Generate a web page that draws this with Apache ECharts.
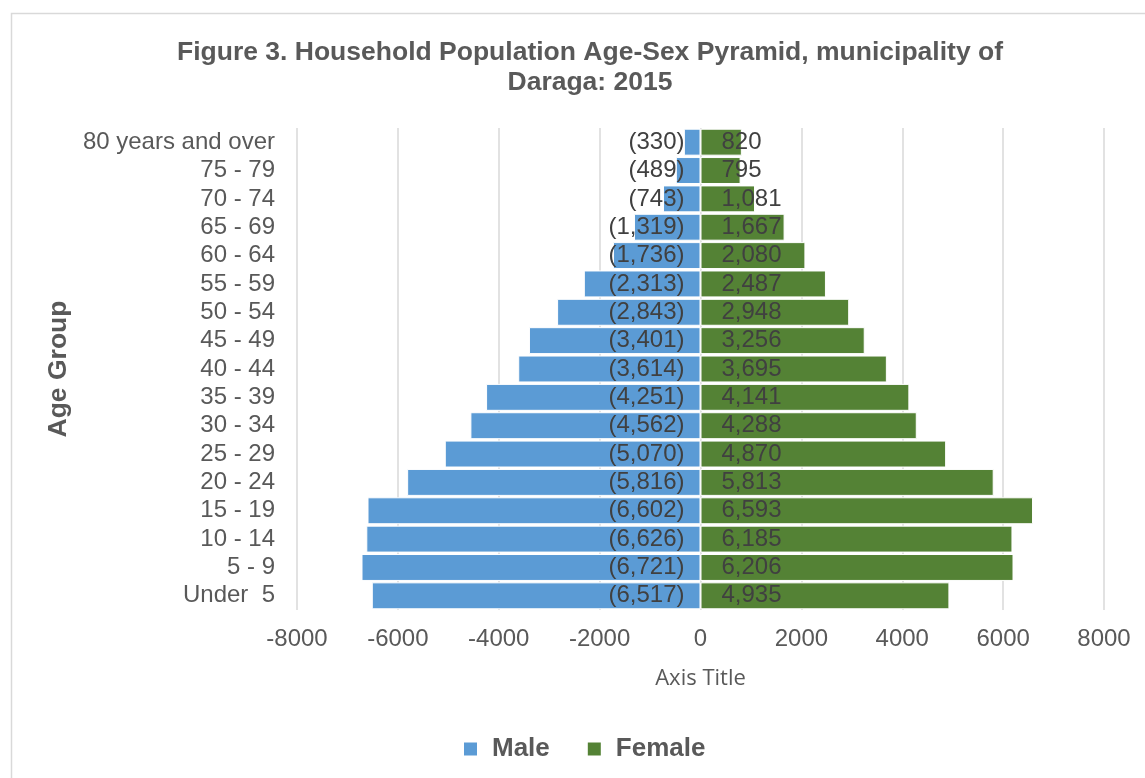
<!DOCTYPE html>
<html><head><meta charset="utf-8">
<script src="https://cdn.jsdelivr.net/npm/echarts@6/dist/echarts.min.js"></script>
<style>html,body{margin:0;padding:0;background:#fff}#c{width:1145px;height:778px}</style>
</head><body><div id="c"></div>
<script>
var categories = ['80 years and over','75 - 79','70 - 74','65 - 69','60 - 64','55 - 59','50 - 54','45 - 49','40 - 44','35 - 39','30 - 34','25 - 29','20 - 24','15 - 19','10 - 14','5 - 9','Under  5'];
var male = [-330,-489,-743,-1319,-1736,-2313,-2843,-3401,-3614,-4251,-4562,-5070,-5816,-6602,-6626,-6721,-6517];
var female = [820,795,1081,1667,2080,2487,2948,3256,3695,4141,4288,4870,5813,6593,6185,6206,4935];
var xTicks = [-8000,-6000,-4000,-2000,0,2000,4000,6000,8000];

function fmt(v){ return Math.abs(v).toString().replace(/\B(?=(\d{3})+(?!\d))/g, ','); }

var chart = echarts.init(document.getElementById('c'));
var F = '"Liberation Sans", Arial, sans-serif';
chart.setOption({
  animation: false,
  graphic: [{type:'rect', shape:{x:11.5,y:13.5,width:1200,height:900}, style:{fill:'none',stroke:'#d9d9d9',lineWidth:1.5}, silent:true}],
  title: {
    text: 'Figure 3. Household Population Age-Sex Pyramid, municipality of\nDaraga: 2015',
    left: 585, top: 33, textAlign: 'center',
    textStyle: {fontFamily:F, fontWeight:'bold', fontSize:26.5, color:'#595959', lineHeight:30}
  },
  legend: {
    bottom: 11, left: 457, itemWidth: 15, itemHeight: 15, itemGap: 36,
    icon: 'rect',
    textStyle: {fontFamily:F, fontWeight:'bold', fontSize:26, color:'#595959', padding:[0,0,0,9]},
    data: ['Male','Female']
  },
  grid: {left: 297, right: 41, top: 128, bottom: 168},
  xAxis: {
    type:'value', min: xTicks[0], max: xTicks[xTicks.length-1], interval: 2000,
    name: 'Axis Title', nameLocation:'middle', nameGap: 58,
    nameTextStyle:{fontFamily:'"Open Sans", sans-serif', fontSize:22, color:'#595959'},
    axisLine:{show:false}, axisTick:{show:false},
    axisLabel:{fontFamily:F, fontSize:24, color:'#595959', margin:17, formatter:function(v){return String(v);}},
    splitLine:{show:true, lineStyle:{color:'#d9d9d9', width:1.5}}
  },
  yAxis: {
    type:'category', data: categories, inverse: true,
    name: 'Age Group', nameLocation:'middle', nameGap: 212, nameRotate: 90,
    nameTextStyle:{fontFamily:F, fontWeight:'bold', fontSize:26.5, color:'#595959'},
    axisLine:{show:false}, axisTick:{show:false},
    axisLabel:{fontFamily:F, fontSize:24, color:'#595959', margin:22, interval:0}
  },
  series: [
    {name:'Male', type:'bar', data: male, barGap:'-100%', barCategoryGap:'5%',
     itemStyle:{color:'#5B9BD5', borderColor:'#fff', borderWidth:1},
     label:{show:true, position:'insideRight', distance:16, fontFamily:F, fontSize:24, color:'#404040',
       formatter:function(p){return '('+fmt(p.value)+')';}}},
    {name:'Female', type:'bar', data: female, barGap:'-100%', barCategoryGap:'5%',
     itemStyle:{color:'#548235', borderColor:'#fff', borderWidth:1},
     label:{show:true, position:'insideLeft', distance:21, fontFamily:F, fontSize:24, color:'#404040',
       formatter:function(p){return fmt(p.value);}}}
  ]
});
</script></body></html>
